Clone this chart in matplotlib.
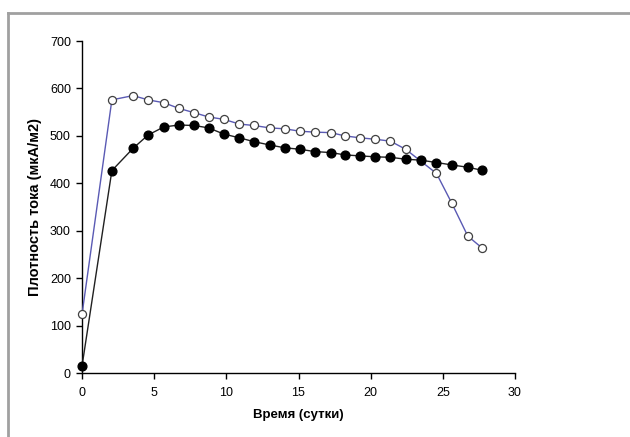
import matplotlib.pyplot as plt
from matplotlib.lines import Line2D

plt.rcParams['font.family'] = ['Liberation Sans', 'DejaVu Sans']

days = [0, 2.07, 3.54, 4.58, 5.67, 6.72, 7.77, 8.77, 9.82, 10.91, 11.91,
        13.0, 14.05, 15.09, 16.14, 17.24, 18.23, 19.28, 20.33, 21.37,
        22.42, 23.47, 24.56, 25.61, 26.73, 27.68]

open_series = [124, 576, 585, 576, 570, 558, 549, 540, 535, 525, 522,
               517, 515, 510, 508, 507, 500, 496, 493, 489,
               472, 447, 421, 359, 289, 265]

filled_series = [15, 427, 474, 502, 519, 523, 522, 517, 504, 496, 488,
                 481, 475, 472, 467, 465, 460, 458, 456, 455,
                 451, 449, 444, 439, 434, 428]

fig = plt.figure(figsize=(6.3, 4.37), dpi=100)

# grey frame of the chart area (only top and left edges visible)
fig.add_artist(Line2D([7.5 / 630, 1], [1 - 13 / 437, 1 - 13 / 437],
                      color="#a0a0a0", lw=2, transform=fig.transFigure))
fig.add_artist(Line2D([7.5 / 630, 7.5 / 630], [0, 1 - 13 / 437],
                      color="#a0a0a0", lw=2, transform=fig.transFigure))

ax = fig.add_axes([82 / 630, (437 - 373.3) / 437, 433 / 630, 332.3 / 437])

ax.plot(days, open_series, color="#5a5ab4", lw=1, marker="o", ms=5.8,
        mfc="white", mec="#404040", mew=0.9, clip_on=False, zorder=3)
ax.plot(days, filled_series, color="#202020", lw=1, marker="o", ms=6.3,
        mfc="black", mec="black", clip_on=False, zorder=4)

ax.set_xlim(0, 30)
ax.set_ylim(0, 700)
ax.set_xticks(range(0, 31, 5))
ax.set_yticks(range(0, 701, 100))

for s in ["top", "right"]:
    ax.spines[s].set_visible(False)
for s in ["left", "bottom"]:
    ax.spines[s].set_linewidth(1)
    ax.spines[s].set_color("black")

ax.tick_params(direction="out", length=4, width=1, labelsize=9,
               colors="black")
ax.tick_params(axis="y", pad=4)
ax.tick_params(axis="x", pad=6)

ax.set_xlabel("Время (сутки)", fontsize=9.5, fontweight="bold", labelpad=7)
ax.set_ylabel("Плотность тока (мкА/м2)", fontsize=10.5, fontweight="bold",
              labelpad=6)

fig.savefig("out.png", dpi=100)
